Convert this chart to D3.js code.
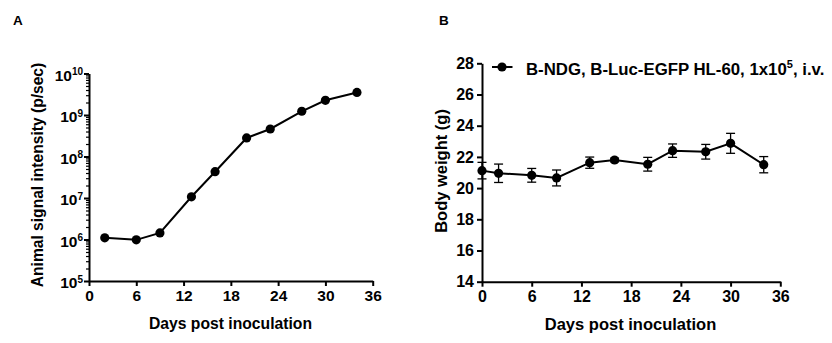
<!DOCTYPE html>
<html><head><meta charset="utf-8">
<script src="https://cdn.jsdelivr.net/npm/d3@7"></script>
<style>
body{margin:0;background:#fff;}
svg{display:block;font-family:"Liberation Sans",Arial,sans-serif;font-weight:bold;}
</style></head>
<body><svg id="c" width="832" height="343"></svg>
<script>
// Panel A: signal intensity
const daysA = [2, 6, 9, 13, 16, 20, 23, 27, 30, 34];
const signalA = [1.1e6, 0.98e6, 1.44e6, 1.07e7, 4.3e7, 2.8e8, 4.6e8, 1.23e9, 2.26e9, 3.5e9];
const yTicksA = [1e5, 1e6, 1e7, 1e8, 1e9, 1e10];
const xTicks = [0, 6, 12, 18, 24, 30, 36];
// Panel B: body weight
const daysB = [0, 2, 6, 9, 13, 16, 20, 23, 27, 30, 34];
const weightB = [21.12, 20.95, 20.82, 20.65, 21.63, 21.8, 21.53, 22.4, 22.33, 22.87, 21.5];
const errB = [0.53, 0.59, 0.44, 0.51, 0.36, 0.12, 0.44, 0.43, 0.47, 0.64, 0.52];
const yTicksB = [14, 16, 18, 20, 22, 24, 26, 28];
const legendLabel = "B-NDG, B-Luc-EGFP HL-60, 1x10";

const svg = d3.select("#c");

function styleAxis(g, fs){
  g.select(".domain").attr("stroke","#000").attr("stroke-width",2);
  g.selectAll(".tick line").attr("stroke","#000").attr("stroke-width",2);
  g.selectAll(".tick text").attr("fill","#000").attr("font-size",fs).attr("font-weight","bold")
    .attr("font-family","'Liberation Sans',Arial,sans-serif");
}

// ---------- Panel A ----------
const xA = d3.scaleLinear().domain([0,36]).range([89,372.7]);
const yA = d3.scaleLog().domain([1e5,1e10]).range([281,73.5]);

// minor ticks
const minor = [];
for(let e=5;e<10;e++) for(let m=2;m<10;m++) minor.push(m*Math.pow(10,e));
svg.append("g").attr("transform","translate(89,0)")
  .call(d3.axisLeft(yA).tickValues(minor).tickSize(3).tickSizeOuter(0).tickFormat(""))
  .call(g=>{g.select(".domain").remove(); g.selectAll(".tick line").attr("stroke","#000").attr("stroke-width",1.2);});

const gyA = svg.append("g").attr("transform","translate(89,0)")
  .call(d3.axisLeft(yA).tickValues(yTicksA).tickSize(5).tickSizeOuter(0).tickPadding(3).tickFormat(""));
styleAxis(gyA, 15);
gyA.selectAll(".tick").each(function(d){
  const t = d3.select(this).append("text").attr("x",-6).attr("dy","0.45em")
    .attr("text-anchor","end").attr("fill","#000").attr("font-size",15.5).attr("font-weight","bold");
  t.append("tspan").text("10");
  t.append("tspan").attr("font-size",10).attr("dy","-0.55em").text(String(Math.round(Math.log10(d))));
});

const gxA = svg.append("g").attr("transform","translate(0,281)")
  .call(d3.axisBottom(xA).tickValues(xTicks).tickSize(5).tickSizeOuter(0).tickPadding(4));
styleAxis(gxA, 15.5);

const lineA = d3.line().x((d,i)=>xA(daysA[i])).y(d=>yA(d));
svg.append("path").datum(signalA).attr("d",lineA).attr("fill","none").attr("stroke","#000").attr("stroke-width",2);
svg.selectAll(".dotA").data(signalA).join("circle").attr("class","dotA")
  .attr("cx",(d,i)=>xA(daysA[i])).attr("cy",d=>yA(d)).attr("r",4.6).attr("fill","#000");

svg.append("text").attr("x",230.5).attr("y",329).attr("text-anchor","middle").attr("font-size",15.7).text("Days post inoculation");
svg.append("text").attr("transform","translate(43,175) rotate(-90)").attr("text-anchor","middle").attr("font-size",15.6).text("Animal signal intensity (p/sec)");
svg.append("text").attr("x",13).attr("y",24.5).attr("font-size",13.5).text("A");

// ---------- Panel B ----------
const xB = d3.scaleLinear().domain([0,36]).range([482,780.3]);
const yB = d3.scaleLinear().domain([14,28]).range([281.7,63.3]);

const gyB = svg.append("g").attr("transform","translate(482,0)")
  .call(d3.axisLeft(yB).tickValues(yTicksB).tickSize(5).tickSizeOuter(0).tickPadding(3));
styleAxis(gyB, 16);
const gxB = svg.append("g").attr("transform","translate(0,281.7)")
  .call(d3.axisBottom(xB).tickValues(xTicks).tickSize(5).tickSizeOuter(0).tickPadding(4));
styleAxis(gxB, 16);

// error bars
const eb = svg.append("g");
daysB.forEach((d,i)=>{
  const x = xB(d), y1 = yB(weightB[i]+errB[i]), y2 = yB(weightB[i]-errB[i]);
  eb.append("line").attr("x1",x).attr("x2",x).attr("y1",y1).attr("y2",y2).attr("stroke","#000").attr("stroke-width",1.3);
  eb.append("line").attr("x1",x-4.5).attr("x2",x+4.5).attr("y1",y1).attr("y2",y1).attr("stroke","#000").attr("stroke-width",1.3);
  eb.append("line").attr("x1",x-4.5).attr("x2",x+4.5).attr("y1",y2).attr("y2",y2).attr("stroke","#000").attr("stroke-width",1.3);
});
const lineB = d3.line().x((d,i)=>xB(daysB[i])).y(d=>yB(d));
svg.append("path").datum(weightB).attr("d",lineB).attr("fill","none").attr("stroke","#000").attr("stroke-width",2);
svg.selectAll(".dotB").data(weightB).join("circle").attr("class","dotB")
  .attr("cx",(d,i)=>xB(daysB[i])).attr("cy",d=>yB(d)).attr("r",4.6).attr("fill","#000");

// legend
svg.append("line").attr("x1",492).attr("x2",512.5).attr("y1",67).attr("y2",67).attr("stroke","#000").attr("stroke-width",2);
svg.append("circle").attr("cx",502).attr("cy",67).attr("r",4.6).attr("fill","#000");
const lt = svg.append("text").attr("x",526).attr("y",74.5).attr("font-size",16.8);
lt.append("tspan").text(legendLabel);
lt.append("tspan").attr("font-size",11).attr("dy","-0.6em").text("5");
lt.append("tspan").attr("dy","0.4em").text(", i.v.");

svg.append("text").attr("x",630.5).attr("y",330).attr("text-anchor","middle").attr("font-size",16.5).text("Days post inoculation");
svg.append("text").attr("transform","translate(447,171) rotate(-90)").attr("text-anchor","middle").attr("font-size",16.5).text("Body weight (g)");
svg.append("text").attr("x",439).attr("y",24.5).attr("font-size",13.5).text("B");
</script></body></html>
